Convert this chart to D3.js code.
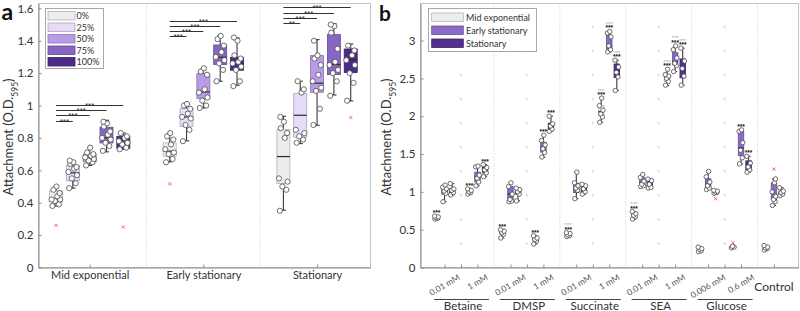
<!DOCTYPE html>
<html>
<head>
<meta charset="utf-8">
<script src="https://cdn.jsdelivr.net/npm/d3@7"></script>
<style>
  body { margin: 0; background: #fff; }
  svg { font-family: Lato, "Open Sans", sans-serif; }
</style>
</head>
<body>
<div id="chart"></div>
<script>
// ---------- panel a data ----------
var phasesA = ["Mid exponential", "Early stationary", "Stationary"];
var levelsA = ["0%", "25%", "50%", "75%", "100%"];
var colorsA = ["#ededed", "#e6dcf7", "#b99ce8", "#8865c4", "#4b2a88"];
var yTicksA = [0, 0.2, 0.4, 0.6, 0.8, 1, 1.2, 1.4, 1.6];

// [lower whisker, q1, median, q3, upper whisker] for each level
var midExpStats = [[0.38, 0.405, 0.42, 0.473, 0.50], [0.49, 0.535, 0.584, 0.63, 0.66], [0.63, 0.652, 0.678, 0.70, 0.74], [0.714, 0.769, 0.802, 0.866, 0.909], [0.73, 0.735, 0.769, 0.81, 0.83]];
var earlyStatStats = [[0.652, 0.687, 0.718, 0.769, 0.827], [0.782, 0.872, 0.93, 0.981, 1.012], [0.985, 1.043, 1.084, 1.197, 1.228], [1.15, 1.253, 1.298, 1.374, 1.434], [1.125, 1.218, 1.259, 1.298, 1.417]];
var statStats = [[0.354, 0.519, 0.685, 0.852, 0.934], [0.765, 0.804, 0.94, 1.074, 1.15], [0.878, 1.082, 1.138, 1.309, 1.407], [1.065, 1.191, 1.253, 1.438, 1.506], [1.028, 1.204, 1.284, 1.349, 1.38]];

var midExpPts = [[0.38, 0.39, 0.41, 0.42, 0.42, 0.44, 0.46, 0.48, 0.50], [0.49, 0.52, 0.55, 0.57, 0.59, 0.61, 0.62, 0.64, 0.65, 0.66], [0.63, 0.65, 0.66, 0.67, 0.68, 0.69, 0.70, 0.71, 0.74], [0.72, 0.75, 0.77, 0.79, 0.80, 0.82, 0.84, 0.87, 0.89, 0.90], [0.73, 0.74, 0.76, 0.77, 0.78, 0.80, 0.81, 0.83]];
var earlyStatPts = [[0.65, 0.67, 0.70, 0.71, 0.73, 0.76, 0.79, 0.81, 0.83], [0.78, 0.85, 0.88, 0.92, 0.93, 0.95, 0.98, 1.0, 1.01], [0.985, 1.0, 1.03, 1.05, 1.08, 1.10, 1.19, 1.21, 1.23], [1.15, 1.22, 1.26, 1.28, 1.30, 1.33, 1.37, 1.41, 1.43], [1.12, 1.15, 1.22, 1.24, 1.26, 1.27, 1.29, 1.31, 1.40, 1.42]];
var statPts = [[0.35, 0.48, 0.50, 0.53, 0.55, 0.80, 0.83, 0.86, 0.90, 0.93], [0.77, 0.79, 0.81, 0.83, 0.85, 1.08, 1.10, 1.15], [0.88, 0.98, 1.09, 1.11, 1.15, 1.19, 1.25, 1.29, 1.31, 1.40], [1.06, 1.15, 1.20, 1.22, 1.25, 1.27, 1.35, 1.45, 1.49, 1.50], [1.03, 1.14, 1.20, 1.25, 1.28, 1.31, 1.34, 1.37]];

// [phase, level, value]
var outliersA = [[0, 0, 0.26], [0, 4, 0.25], [1, 0, 0.516], [2, 4, 0.926]];
// [phase, compared level, bar height, label]  (all bars start at 0%)
var sigA = [
  [0, 1, 0.905, "***"], [0, 2, 0.94, "***"], [0, 3, 0.971, "***"], [0, 4, 1.002, "***"],
  [1, 1, 1.43, "***"], [1, 2, 1.46, "***"], [1, 3, 1.494, "***"], [1, 4, 1.525, "***"],
  [2, 1, 1.512, "**"], [2, 2, 1.543, "***"], [2, 3, 1.574, "***"], [2, 4, 1.609, "***"]
];

// ---------- panel b data ----------
var phasesB = ["Mid exponential", "Early stationary", "Stationary"];
var colorsB = ["#ededed", "#8b6bc6", "#52308f"];
var concLabels = ["0.01 mM", "1 mM", "0.01 mM", "1 mM", "0.01 mM", "1 mM", "0.01 mM", "1 mM", "0.006 mM", "0.6 mM"];
var compounds = ["Betaine", "DMSP", "Succinate", "SEA", "Glucose"];
var controlLabel = "Control";
var yTicksB = [0, 0.5, 1, 1.5, 2, 2.5, 3];

var bMidStats = [[0.64, 0.65, 0.66, 0.67, 0.68], [0.97, 0.99, 1.0, 1.02, 1.04], [0.39, 0.44, 0.46, 0.48, 0.50], [0.31, 0.35, 0.37, 0.39, 0.42], [0.41, 0.42, 0.43, 0.45, 0.46], [1.92, 2.01, 2.06, 2.14, 2.24], [0.64, 0.68, 0.69, 0.72, 0.74], [2.405, 2.46, 2.51, 2.546, 2.62], [0.21, 0.22, 0.24, 0.25, 0.27], [0.26, 0.265, 0.27, 0.275, 0.28], [0.23, 0.25, 0.26, 0.27, 0.29]];
var bEarlyStats = [[0.87, 0.97, 1.0, 1.05, 1.09], [1.08, 1.13, 1.2, 1.26, 1.34], [0.87, 0.88, 0.97, 1.07, 1.12], [1.46, 1.525, 1.59, 1.657, 1.755], [0.91, 0.99, 1.06, 1.116, 1.26], [2.85, 2.87, 2.93, 3.07, 3.12], [1.077, 1.08, 1.12, 1.187, 1.227], [2.59, 2.68, 2.72, 2.84, 2.93], [1.03, 1.04, 1.1, 1.174, 1.274], [1.37, 1.48, 1.58, 1.8, 1.82], [0.82, 0.897, 0.91, 1.116, 1.17]];
var bStatStats = [[0.96, 0.98, 1.02, 1.04, 1.11], [1.2, 1.25, 1.3, 1.33, 1.36], [0.88, 0.97, 1.0, 1.04, 1.05], [1.8, 1.82, 1.87, 1.908, 2.0], [0.97, 1.0, 1.04, 1.08, 1.1], [2.34, 2.51, 2.6, 2.69, 2.74], [1.05, 1.05, 1.1, 1.16, 1.17], [2.41, 2.507, 2.625, 2.757, 2.9], [0.98, 0.99, 1.0, 1.01, 1.02], [1.26, 1.29, 1.35, 1.41, 1.47], [0.95, 0.967, 0.99, 1.0, 1.055]];

var bMidPts = [[0.64, 0.65, 0.66, 0.67, 0.68], [0.97, 0.99, 1.0, 1.02, 1.04], [0.39, 0.44, 0.46, 0.48, 0.50], [0.31, 0.35, 0.37, 0.39, 0.42], [0.41, 0.42, 0.43, 0.45, 0.46], [1.92, 1.99, 2.03, 2.08, 2.14, 2.24], [0.64, 0.67, 0.69, 0.71, 0.74], [2.41, 2.46, 2.5, 2.53, 2.55, 2.62], [0.21, 0.22, 0.24, 0.25, 0.27], [0.26, 0.27, 0.28], [0.23, 0.25, 0.26, 0.27, 0.29]];
var bEarlyPts = [[0.87, 0.98, 1.01, 1.04, 1.06, 1.09], [1.08, 1.13, 1.18, 1.22, 1.33, 1.34], [0.87, 0.88, 0.9, 0.97, 1.07, 1.12], [1.46, 1.52, 1.57, 1.62, 1.68, 1.75], [0.91, 1.02, 1.05, 1.08, 1.12, 1.26], [2.85, 2.88, 2.93, 3.05, 3.1, 3.12], [1.07, 1.08, 1.1, 1.14, 1.19, 1.23], [2.59, 2.67, 2.7, 2.77, 2.88, 2.93], [1.03, 1.05, 1.08, 1.13, 1.2, 1.27], [1.37, 1.45, 1.55, 1.65, 1.8, 1.82], [0.82, 0.87, 0.9, 0.94, 1.0, 1.12, 1.17]];
var bStatPts = [[0.96, 0.99, 1.02, 1.04, 1.11], [1.2, 1.25, 1.29, 1.32, 1.36], [0.88, 0.97, 1.0, 1.03, 1.05], [1.8, 1.83, 1.87, 1.9, 2.0], [0.97, 1.0, 1.04, 1.08, 1.1], [2.34, 2.52, 2.58, 2.65, 2.74], [1.05, 1.06, 1.1, 1.15, 1.17], [2.41, 2.53, 2.63, 2.73, 2.9], [0.98, 0.99, 1.0, 1.01, 1.02], [1.26, 1.29, 1.33, 1.38, 1.47], [0.95, 0.97, 0.99, 1.01, 1.055]];

// [category, phase, value]
var outliersB = [[8, 2, 0.91], [9, 0, 0.325], [10, 1, 1.30]];
// [category, phase]
var blackStarsB = [[0, 0], [1, 0], [1, 2], [2, 0], [3, 0], [3, 1], [3, 2], [4, 0], [5, 0], [5, 1], [5, 2], [6, 0], [7, 0], [7, 1], [7, 2], [9, 1], [9, 2]];
var greyStarsB = [[4, 0], [5, 0], [5, 1], [5, 2], [6, 0], [7, 0], [7, 1], [7, 2]];

// ---------- drawing ----------
var W = 800, H = 311;
var svg = d3.select("#chart").append("svg")
  .attr("width", W)
  .attr("height", H);

var jitter = [-0.28, 0.22, -0.08, 0.32, -0.34, 0.1, 0.28, -0.2, 0.04, -0.24];

function drawBox(g, cx, bw, s, pts, fill, y, r) {
  var line = "#3a3a3a";
  g.append("line")
    .attr("x1", cx).attr("x2", cx)
    .attr("y1", y(s[0])).attr("y2", y(s[4]))
    .attr("stroke", line).attr("stroke-width", 1.1);
  [s[0], s[4]].forEach(function(v) {
    g.append("line")
      .attr("x1", cx - Math.max(2, bw * 0.2)).attr("x2", cx + Math.max(2, bw * 0.2))
      .attr("y1", y(v)).attr("y2", y(v))
      .attr("stroke", line).attr("stroke-width", 1.1);
  });
  g.append("rect")
    .attr("x", cx - bw / 2)
    .attr("y", y(s[3]))
    .attr("width", bw)
    .attr("height", Math.max(1, y(s[1]) - y(s[3])))
    .attr("fill", fill)
    .attr("stroke", d3.color(fill).darker(0.8))
    .attr("stroke-width", 0.8);
  g.append("line")
    .attr("x1", cx - bw / 2).attr("x2", cx + bw / 2)
    .attr("y1", y(s[2])).attr("y2", y(s[2]))
    .attr("stroke", "#2a2a2a").attr("stroke-width", 1.2);
  g.selectAll(null)
    .data(pts)
    .join("circle")
    .attr("cx", function(d, i) { return cx + jitter[i % jitter.length] * bw; })
    .attr("cy", function(d) { return y(d); })
    .attr("r", r)
    .attr("fill", "#fff")
    .attr("stroke", "#4a4a4a")
    .attr("stroke-width", 0.8);
}

function drawOutlier(g, cx, cy) {
  var s = 1.6;
  g.append("path")
    .attr("d", "M" + (cx - s) + "," + (cy - s) + "L" + (cx + s) + "," + (cy + s) +
               "M" + (cx - s) + "," + (cy + s) + "L" + (cx + s) + "," + (cy - s))
    .attr("stroke", "#f06a6a").attr("stroke-width", 1);
}

// ===== panel a =====
var xA = d3.scaleLinear().domain([0.55, 3.47]).range([38.5, 370.5]);
var yA = d3.scaleLinear().domain([0, 1.63]).range([267.5, 3.5]);
var gA = svg.append("g");

// frame
gA.append("rect")
  .attr("x", xA.range()[0]).attr("y", yA.range()[1])
  .attr("width", xA.range()[1] - xA.range()[0])
  .attr("height", yA.range()[0] - yA.range()[1])
  .attr("fill", "none").attr("stroke", "#c4c4c4");

// dotted separators
[1.5, 2.5].forEach(function(v) {
  gA.append("line")
    .attr("x1", xA(v)).attr("x2", xA(v))
    .attr("y1", yA.range()[1]).attr("y2", yA.range()[0])
    .attr("stroke", "#c8c8c8").attr("stroke-dasharray", "1,2");
});

var axA_y = gA.append("g")
  .attr("transform", "translate(" + xA.range()[0] + ",0)")
  .call(d3.axisLeft(yA).tickValues(yTicksA).tickFormat(d3.format("~g")).tickSizeInner(-3).tickSizeOuter(0).tickPadding(5));
var axA_x = gA.append("g")
  .attr("transform", "translate(0," + yA.range()[0] + ")")
  .call(d3.axisBottom(xA).tickValues([1, 2, 3]).tickFormat(function(d) { return phasesA[d - 1]; }).tickSizeInner(-3).tickSizeOuter(0).tickPadding(4));
[axA_y, axA_x].forEach(function(ax) {
  ax.select(".domain").attr("stroke", "#8a8a8a");
  ax.selectAll(".tick line").attr("stroke", "#8a8a8a");
  ax.selectAll("text").attr("fill", "#333").style("font-size", "11.5px").style("font-family", "Lato, sans-serif");
});
axA_x.selectAll("text").style("font-size", "11px");

var statsA = [midExpStats, earlyStatStats, statStats];
var ptsA = [midExpPts, earlyStatPts, statPts];
var stepA = 0.148, bwA = 13;
function posA(p, l) { return xA(p + 1 + (l - 2) * stepA); }

statsA.forEach(function(phaseStats, p) {
  phaseStats.forEach(function(s, l) {
    drawBox(gA, posA(p, l), bwA, s, ptsA[p][l], colorsA[l], yA, 2.6);
  });
});
outliersA.forEach(function(o) { drawOutlier(gA, posA(o[0], o[1]), yA(o[2])); });

// significance bars
sigA.forEach(function(s) {
  var x1 = posA(s[0], 0), x2 = posA(s[0], s[1]), yy = Math.round(yA(s[2])) + 0.5;
  gA.append("line")
    .attr("x1", x1).attr("x2", x2).attr("y1", yy).attr("y2", yy)
    .attr("stroke", "#333").attr("stroke-width", 1);
  gA.append("text")
    .attr("x", (x1 + x2) / 2).attr("y", yy + 2.5)
    .attr("text-anchor", "middle")
    .style("font-family", "Liberation Sans, sans-serif")
    .style("font-size", "8px")
    .attr("fill", "#333")
    .text(s[3]);
});

// legend a
var legA = gA.append("g").attr("transform", "translate(45.5,8.5)");
legA.append("rect").attr("width", 58).attr("height", 60)
  .attr("fill", "#fff").attr("stroke", "#a8a8a8");
levelsA.forEach(function(lv, i) {
  legA.append("rect")
    .attr("x", 2.5).attr("y", 3 + i * 11.5)
    .attr("width", 27).attr("height", 8.5)
    .attr("fill", colorsA[i]).attr("stroke", d3.color(colorsA[i]).darker(0.8)).attr("stroke-width", 0.8);
  legA.append("text")
    .attr("x", 31).attr("y", 10.5 + i * 11.5)
    .style("font-size", "9px").attr("fill", "#333")
    .text(lv);
});

// y label a
gA.append("text")
  .attr("transform", "translate(13," + 137 + ") rotate(-90)")
  .attr("text-anchor", "middle")
  .style("font-size", "13px").attr("fill", "#333")
  .html('Attachment (O.D.<tspan baseline-shift="sub" font-size="8.5px">595</tspan>)');

svg.append("text")
  .attr("x", 1.5).attr("y", 20)
  .style("font-size", "23px").style("font-weight", "bold")
  .attr("fill", "#111")
  .text("a");

// ===== panel b =====
var xB = d3.scaleLinear().domain([0.27, 11.745]).range([420.5, 798.5]);
var yB = d3.scaleLinear().domain([0, 3.49]).range([267.5, 3.5]);
var gB = svg.append("g");

gB.append("rect")
  .attr("x", xB.range()[0]).attr("y", yB.range()[1])
  .attr("width", xB.range()[1] - xB.range()[0])
  .attr("height", yB.range()[0] - yB.range()[1])
  .attr("fill", "none").attr("stroke", "#c4c4c4");

var groupCenters = compounds.map(function(c, i) { return 2 * i + 1.5; });
var seps = compounds.map(function(c, i) { return 2 * i + 2.5; });
seps.forEach(function(v) {
  gB.append("line")
    .attr("x1", xB(v)).attr("x2", xB(v))
    .attr("y1", yB.range()[1]).attr("y2", yB.range()[0])
    .attr("stroke", "#c8c8c8").attr("stroke-dasharray", "1,2");
});

// faint minor-grid crosses
var crossRows = [0.318, 0.636, 0.955, 1.273, 1.591, 1.909, 2.227, 2.545, 2.864, 3.182];
groupCenters.forEach(function(gc) {
  crossRows.forEach(function(v) {
    var cx = xB(gc), cy = yB(v);
    gB.append("path")
      .attr("d", "M" + (cx - 1.5) + "," + cy + "H" + (cx + 1.5) + "M" + cx + "," + (cy - 1.5) + "V" + (cy + 1.5))
      .attr("stroke", "#d6d6d6").attr("stroke-width", 0.8);
  });
});

var axB_y = gB.append("g")
  .attr("transform", "translate(" + xB.range()[0] + ",0)")
  .call(d3.axisLeft(yB).tickValues(yTicksB).tickFormat(d3.format("~g")).tickSizeInner(-3).tickSizeOuter(0).tickPadding(5));
var catIdx = d3.range(1, 12);
var axB_x = gB.append("g")
  .attr("transform", "translate(0," + yB.range()[0] + ")")
  .call(d3.axisBottom(xB).tickValues(catIdx.concat(groupCenters)).tickFormat("").tickSizeInner(-3).tickSizeOuter(0));
[axB_y, axB_x].forEach(function(ax) {
  ax.select(".domain").attr("stroke", "#8a8a8a");
  ax.selectAll(".tick line").attr("stroke", "#8a8a8a");
  ax.selectAll("text").attr("fill", "#333").style("font-size", "11.5px").style("font-family", "Lato, sans-serif");
});

var statsB = [bMidStats, bEarlyStats, bStatStats];
var ptsB = [bMidPts, bEarlyPts, bStatPts];
var offB = [-0.245, 0, 0.23], bwB = 5.5;
function posB(c, p) { return xB(c + 1 + offB[p]); }

statsB.forEach(function(phaseStats, p) {
  phaseStats.forEach(function(s, c) {
    drawBox(gB, posB(c, p), bwB, s, ptsB[p][c], colorsB[p], yB, 2.2);
  });
});
outliersB.forEach(function(o) { drawOutlier(gB, posB(o[0], o[1]), yB(o[2])); });

function starTop(c, p) {
  return yB(Math.max(statsB[p][c][4], d3.max(ptsB[p][c])));
}
blackStarsB.forEach(function(s) {
  gB.append("text")
    .attr("x", posB(s[0], s[1])).attr("y", starTop(s[0], s[1]) - 1)
    .attr("text-anchor", "middle")
    .style("font-family", "Liberation Sans, sans-serif")
    .style("font-size", "6.5px").style("font-weight", "bold")
    .attr("fill", "#111")
    .text("***");
});
greyStarsB.forEach(function(s) {
  gB.append("text")
    .attr("x", posB(s[0], s[1])).attr("y", starTop(s[0], s[1]) - 5.5)
    .attr("text-anchor", "middle")
    .style("font-family", "Liberation Sans, sans-serif")
    .style("font-size", "6px")
    .attr("fill", "#aaa")
    .text("***");
});

// rotated concentration labels
concLabels.forEach(function(lab, i) {
  var t = gB.append("text")
    .attr("text-anchor", "middle")
    .style("font-size", "8.5px").attr("fill", "#555")
    .text(lab);
  var len = t.node().getComputedTextLength();
  var cy = yB.range()[0] + 6 + len / 2 * Math.sin(Math.PI / 6) + 3;
  t.attr("transform", "translate(" + xB(i + 1) + "," + cy + ") rotate(-30)")
    .attr("dy", "0.35em");
});
gB.append("text")
  .attr("x", xB(11)).attr("y", 290.7)
  .attr("text-anchor", "middle")
  .style("font-size", "12px").attr("fill", "#333")
  .text(controlLabel);

// compound group lines and names
compounds.forEach(function(name, i) {
  var a = 2 * i + 1, b = 2 * i + 2;
  gB.append("line")
    .attr("x1", xB(a - 0.32)).attr("x2", xB(b + 0.35))
    .attr("y1", 299.5).attr("y2", 299.5)
    .attr("stroke", "#444").attr("stroke-width", 1);
  gB.append("text")
    .attr("x", xB((a + b) / 2) + 2).attr("y", 309.5)
    .attr("text-anchor", "middle")
    .style("font-size", "11.5px").attr("fill", "#333")
    .text(name);
});

// legend b
var legB = gB.append("g").attr("transform", "translate(428.5,8.5)");
legB.append("rect").attr("width", 108).attr("height", 43)
  .attr("fill", "#fff").attr("stroke", "#a8a8a8");
phasesB.forEach(function(ph, i) {
  legB.append("rect")
    .attr("x", 3.2).attr("y", 4.5 + i * 13)
    .attr("width", 31.6).attr("height", 8.5)
    .attr("fill", colorsB[i]).attr("stroke", d3.color(colorsB[i]).darker(0.8)).attr("stroke-width", 0.8);
  legB.append("text")
    .attr("x", 37.5).attr("y", 12 + i * 13)
    .style("font-size", "9px").attr("fill", "#333")
    .text(ph);
});

gB.append("text")
  .attr("transform", "translate(391," + 137 + ") rotate(-90)")
  .attr("text-anchor", "middle")
  .style("font-size", "13px").attr("fill", "#333")
  .html('Attachment (O.D.<tspan baseline-shift="sub" font-size="8.5px">595</tspan>)');

svg.append("text")
  .attr("x", 379).attr("y", 21)
  .style("font-size", "21px").style("font-weight", "bold")
  .attr("fill", "#111")
  .text("b");
</script>
</body>
</html>
